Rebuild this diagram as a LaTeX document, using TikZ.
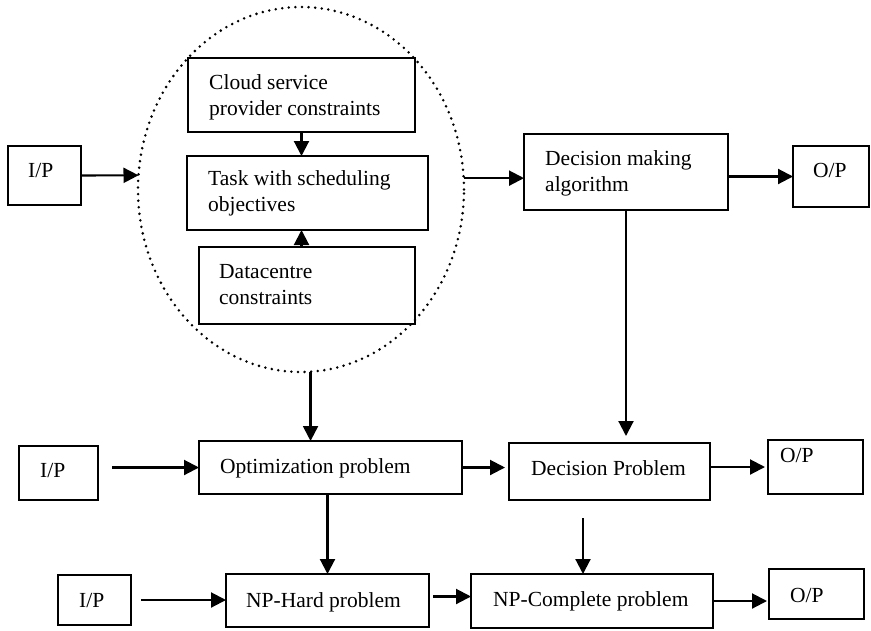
\documentclass[tikz,border=0pt]{standalone}
\usepackage{fontspec}
\setmainfont{Liberation Serif}
\usetikzlibrary{arrows.meta,shapes.geometric,calc}
\tikzset{
  box/.style={draw, line width=2.1pt, inner sep=0pt, outer sep=0pt},
  lbl/.style={anchor=base west, inner sep=0pt, font=\fontsize{21.5}{26}\selectfont},
  arr/.style={line width=2.1pt, -{Triangle[length=15pt,width=15pt]}},
  dotell/.style={ellipse, draw, line width=2.8pt, line cap=round, dash pattern=on 0pt off 6.6pt, inner sep=0pt, outer sep=0pt}
}
\newcommand{\mybox}[5]{%
  \node[box, minimum width={(#4)-(#2)}, minimum height={(#5)-(#3)}] (#1) at ({((#2)+(#4))/2},{((#3)+(#5))/2}) {};}
\begin{document}
\begin{tikzpicture}[x=1pt,y=-1pt]
\useasboundingbox (0,0) rectangle (871,630);
% ellipse
\node[dotell, minimum width=326pt, minimum height=365pt] (ell) at (301,189.5) {};
% boxes
\mybox{ip1}{8}{146}{81}{205}
\mybox{cloud}{188}{58}{415}{132}
\mybox{task}{187}{156}{428}{230}
\mybox{dc}{199}{247}{415}{324}
\mybox{dma}{524}{134}{728}{210}
\mybox{op1}{793}{146}{869}{207}
\mybox{ip2}{19}{446}{98}{500}
\mybox{opt}{199}{441}{462}{494}
\mybox{dp}{509}{443}{710}{500}
\mybox{op2}{768}{440}{863}{494}
\mybox{ip3}{58}{575}{131}{625}
\mybox{nph}{226}{574}{429}{627}
\mybox{npc}{471}{574}{713}{628}
\mybox{op3}{769}{569}{864}{619}
% texts
\node[lbl] (t-ip1) at (28,177) {I/P};
\node[lbl] (t-cloud1) at (209,89) {Cloud service};
\node[lbl] (t-cloud2) at (209,115) {provider constraints};
\node[lbl] (t-task1) at (208,185) {Task with scheduling};
\node[lbl] (t-task2) at (208,211) {objectives};
\node[lbl] (t-dc1) at (219,278) {Datacentre};
\node[lbl] (t-dc2) at (219,304) {constraints};
\node[lbl] (t-dma1) at (545,165) {Decision making};
\node[lbl] (t-dma2) at (545,191) {algorithm};
\node[lbl] (t-op1) at (813,177) {O/P};
\node[lbl] (t-ip2) at (40,477) {I/P};
\node[lbl] (t-opt) at (220,473) {Optimization problem};
\node[lbl] (t-dp) at (531,475) {Decision Problem};
\node[lbl] (t-op2) at (780,462) {O/P};
\node[lbl] (t-ip3) at (79,607) {I/P};
\node[lbl] (t-nph) at (246,607) {NP-Hard problem};
\node[lbl] (t-npc) at (493,606) {NP-Complete problem};
\node[lbl] (t-op3) at (790,602) {O/P};
% connectors
\draw[arr] (ip1.east) -- (ell.175);
\draw[arr] (cloud.south) -- (cloud.south |- task.north);
\draw[arr] (cloud.south |- dc.north) -- (cloud.south |- task.south);
\draw[arr] (ell.4.4) -- (ell.4.4 -| dma.west);
\draw[arr] (op1.west -| dma.east) -- (op1.west);
\draw[arr] (ell.-87) -- (ell.-87 |- opt.north);
\draw[arr, shorten >=7pt] (dma.south) -- (dma.south |- dp.north);
\draw[arr, shorten <=14pt] (opt.west -| ip2.east) -- (opt.west);
\draw[arr, shorten >=4pt] (opt.east) -- (opt.east -| dp.west);
\draw[arr, shorten >=3pt] (op2.west -| dp.east) -- (op2.west);
\draw[arr] (nph.north |- opt.south) -- (nph.north);
\coordinate (dpc) at (583,518);
\draw[arr] (dpc) -- (dpc |- npc.north);
\draw[arr, shorten <=10pt] (ip3.east) -- (ip3.east -| nph.west);
\draw[arr, shorten <=4pt] ([yshift=4pt]nph.east) -- ([yshift=4pt]nph.east -| npc.west);
\draw[arr, shorten >=2pt] (npc.east) -- (npc.east -| op3.west);
\end{tikzpicture}
\end{document}
